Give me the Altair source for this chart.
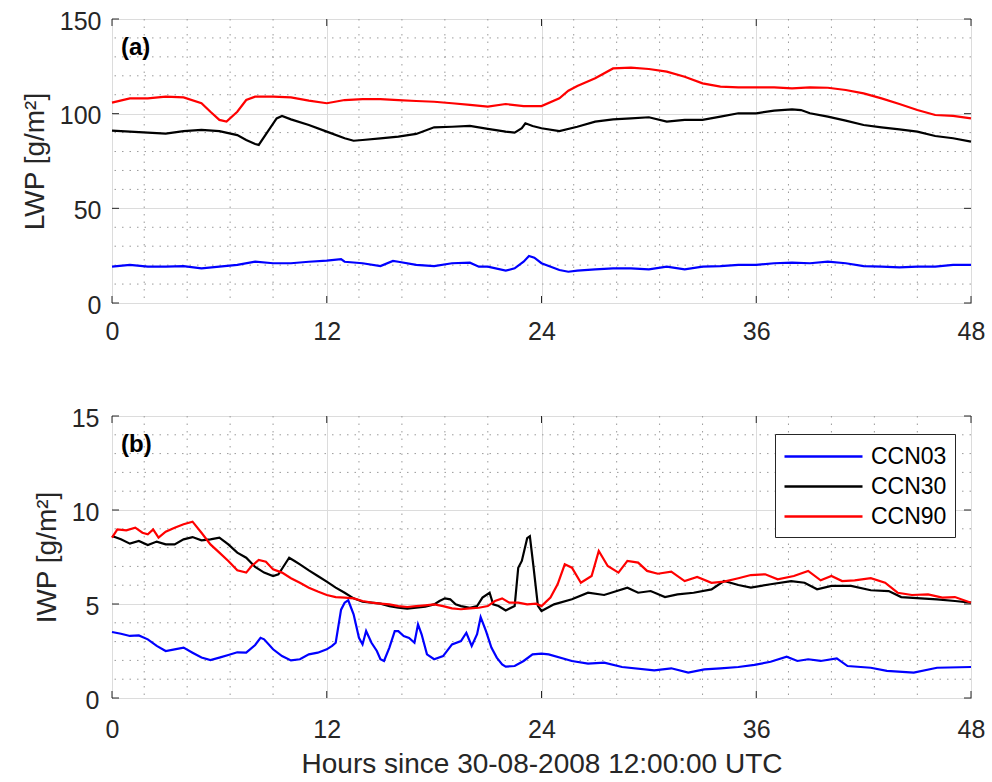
import altair as alt
import pandas as pd

# ---------------- categories / styles ----------------
series_names = ["CCN03", "CCN30", "CCN90"]
series_colors = ["#0000ff", "#000000", "#ff0000"]

x_ticks = [0, 12, 24, 36, 48]
x_minor = [1.8, 4.2, 6.6, 9.0, 13.8, 16.2, 18.6, 21.0, 25.8, 28.2, 30.6, 33.0,
           37.8, 40.2, 42.6, 45.0]
lwp_ticks = [0, 50, 100, 150]
lwp_minor = [10, 20, 30, 40, 60, 70, 80, 90, 110, 120, 130, 140]
iwp_ticks = [0, 5, 10, 15]
iwp_minor = [1, 2, 3, 4, 6, 7, 8, 9, 11, 12, 13, 14]

# ---------------- LWP (panel a) ----------------
lwp03_h = [0, 1, 2, 3, 4, 5, 6, 7, 8, 9, 10, 11, 12, 12.8, 13, 14, 15, 15.7, 16, 17, 18, 19, 20,
           20.5, 21, 22, 22.5, 23, 23.3, 23.6, 24, 25, 25.5, 26, 27, 28, 29, 30, 31, 32, 33, 34,
           35, 36, 37, 38, 39, 40, 41, 42, 43, 44, 45, 46, 47, 48]
lwp03_v = [19.2, 20.1, 19.2, 19.2, 19.5, 18.3, 19.2, 20.1, 21.8, 21.0, 21.0, 21.8, 22.4, 23.2,
           21.8, 21.0, 19.5, 22.2, 21.8, 20.1, 19.5, 21.0, 21.3, 19.2, 19.2, 17.1, 18.3, 21.8,
           24.8, 23.9, 21.0, 17.4, 16.5, 17.1, 17.8, 18.3, 18.3, 17.8, 19.2, 17.8, 19.2, 19.5,
           20.1, 20.1, 21.0, 21.3, 21.0, 21.8, 21.0, 19.5, 19.2, 18.8, 19.2, 19.2, 20.1, 20.1]

lwp30_h = [0, 1, 2, 3, 4, 5, 6, 7, 7.5, 8, 8.2, 8.7, 9.2, 9.5, 10, 11, 12, 13, 13.5, 14, 15, 16,
           17, 18, 19, 20, 21, 22, 22.5, 22.9, 23.1, 23.5, 24, 25, 26, 27, 28, 29, 30, 31, 32,
           33, 34, 35, 36, 37, 38, 38.5, 39, 40, 41, 42, 43, 44, 45, 46, 47, 48]
lwp30_v = [91.0, 90.5, 90.0, 89.5, 90.8, 91.4, 90.8, 88.7, 86.1, 84.0, 83.5, 90.5, 97.5, 98.8,
           97.0, 94.0, 90.5, 87.0, 85.7, 86.1, 87.0, 87.9, 89.3, 92.8, 93.1, 93.5, 92.0, 90.5,
           90.0, 92.3, 94.9, 93.5, 92.3, 90.8, 93.1, 95.8, 97.0, 97.5, 98.1, 95.8, 96.7, 96.7,
           98.4, 100.2, 100.2, 101.6, 102.3, 101.9, 100.2, 98.4, 96.3, 94.0, 92.8, 91.7, 90.5,
           88.2, 87.0, 85.2]

lwp90_h = [0, 1, 2, 3, 4, 5, 5.5, 6, 6.4, 7, 7.5, 8, 9, 10, 11, 12, 13, 14, 15, 16, 17, 18, 19,
           20, 21, 22, 23, 24, 25, 25.5, 26, 27, 28, 29, 30, 31, 32, 33, 34, 35, 36, 37, 38, 39,
           40, 41, 42, 43, 44, 45, 46, 47, 48]
lwp90_v = [105.8, 108.1, 108.1, 109.0, 108.6, 105.5, 101.0, 96.7, 95.8, 101.0, 107.2, 109.0,
           109.0, 108.6, 106.9, 105.5, 107.2, 107.7, 107.7, 107.2, 106.7, 106.3, 105.5, 104.6,
           103.7, 105.1, 104.0, 104.0, 108.1, 112.1, 114.6, 118.7, 123.9, 124.3, 123.6, 122.2,
           119.5, 116.0, 114.3, 113.9, 113.9, 113.9, 113.4, 113.9, 113.7, 112.5, 110.7, 108.1,
           105.1, 101.9, 99.3, 98.8, 97.5]

# ---------------- IWP (panel b) ----------------
iwp03_h = [0, 0.5, 1, 1.5, 2, 2.5, 3, 3.5, 4, 4.5, 5, 5.5, 6, 6.5, 7, 7.5, 8, 8.3, 8.5, 9, 9.5,
           10, 10.5, 11, 11.5, 12, 12.3, 12.5, 12.8, 13.0, 13.2, 13.5, 13.8, 14, 14.2, 14.5,
           14.8, 15, 15.2, 15.5, 15.8, 16, 16.3, 16.6, 16.9, 17.1, 17.3, 17.6, 18, 18.5, 19,
           19.5, 19.8, 20.1, 20.4, 20.6, 20.9, 21.2, 21.5, 21.8, 22, 22.5, 23, 23.5, 24, 24.4,
           25.7, 26.6, 27.5, 28.5, 30.3, 31.25, 32.2, 33.1, 34.0, 35.0, 35.9, 36.8, 37.7, 38.3,
           38.9, 39.6, 40.5, 41.1, 42.4, 43.3, 44.8, 46.1, 48]
iwp03_v = [3.51, 3.42, 3.30, 3.33, 3.12, 2.77, 2.50, 2.59, 2.68, 2.41, 2.15, 2.02, 2.15, 2.29,
           2.43, 2.41, 2.82, 3.20, 3.12, 2.59, 2.23, 2.00, 2.06, 2.32, 2.41, 2.59, 2.77, 2.94,
           4.70, 5.07, 5.20, 4.45, 3.20, 2.85, 3.56, 2.94, 2.50, 2.06, 1.97, 2.68, 3.56, 3.56,
           3.30, 3.20, 2.94, 3.92, 3.39, 2.32, 2.06, 2.23, 2.85, 3.03, 3.47, 2.77, 3.39, 4.30,
           3.56, 2.68, 2.15, 1.79, 1.67, 1.70, 1.97, 2.32, 2.36, 2.32, 1.97, 1.83, 1.88, 1.65,
           1.47, 1.58, 1.35, 1.52, 1.58, 1.65, 1.76, 1.93, 2.20, 1.97, 2.06, 1.97, 2.11, 1.70,
           1.61, 1.44, 1.35, 1.61, 1.65]

iwp30_h = [0, 0.5, 1, 1.5, 2, 2.5, 3, 3.5, 4, 4.5, 5, 5.5, 6, 6.5, 7, 7.5, 8, 8.5, 9, 9.3, 9.6,
           9.9, 10.2, 10.5, 11, 11.5, 12, 12.5, 13, 13.5, 14, 14.5, 15, 15.5, 16, 16.5, 17, 17.5,
           18, 18.3, 18.6, 18.9, 19.2, 19.5, 20, 20.4, 20.7, 21.1, 21.3, 21.6, 22, 22.5, 22.7,
           22.9, 23.2, 23.35, 23.55, 23.8, 24.0, 24.7, 25.7, 26.6, 27.5, 28.8, 29.4, 30.1, 30.9,
           31.6, 32.5, 33.5, 34.2, 35.0, 35.7, 36.8, 37.95, 38.7, 39.4, 40.2, 41.3, 42.4, 43.4,
           44.1, 45.2, 46.1, 47.1, 48]
iwp30_v = [8.62, 8.44, 8.21, 8.35, 8.14, 8.32, 8.17, 8.17, 8.44, 8.56, 8.39, 8.44, 8.53, 8.17,
           7.73, 7.46, 6.97, 6.67, 6.49, 6.58, 7.02, 7.46, 7.29, 7.11, 6.79, 6.49, 6.19, 5.87,
           5.60, 5.30, 5.12, 5.07, 5.02, 4.89, 4.80, 4.75, 4.80, 4.86, 4.98, 5.16, 5.30, 5.25,
           4.98, 4.89, 4.80, 4.89, 5.34, 5.60, 4.98, 4.89, 4.66, 4.89, 6.93, 7.29, 8.50, 8.60,
           7.00, 4.90, 4.63, 4.98, 5.25, 5.60, 5.48, 5.87, 5.60, 5.69, 5.37, 5.51, 5.60, 5.78,
           6.22, 6.01, 5.87, 6.05, 6.22, 6.13, 5.78, 5.96, 5.96, 5.73, 5.69, 5.37, 5.30, 5.25,
           5.16, 5.07]

iwp90_h = [0, 0.3, 0.8, 1.3, 1.7, 2, 2.3, 2.6, 3, 3.5, 4, 4.5, 5, 5.5, 6, 6.5, 7, 7.5, 7.8, 8.2,
           8.6, 9, 9.5, 10, 10.5, 11, 11.5, 12, 12.5, 13, 13.5, 14, 14.5, 15, 15.5, 16, 16.5, 17,
           17.5, 18, 18.5, 19, 19.5, 20, 20.5, 21, 21.4, 21.8, 22.2, 22.7, 23.2, 23.7, 24, 24.5,
           24.9, 25.3, 25.7, 26.2, 26.8, 27.2, 27.7, 28.3, 28.8, 29.4, 29.9, 30.5, 31.25, 32.0,
           32.7, 33.5, 34.2, 35.0, 35.7, 36.5, 37.2, 38.1, 38.9, 39.6, 40.2, 40.8, 41.5, 42.4,
           43.2, 43.9, 44.7, 45.6, 46.4, 47.1, 48]
iwp90_v = [8.53, 8.97, 8.92, 9.06, 8.79, 8.71, 8.97, 8.53, 8.85, 9.06, 9.24, 9.38, 8.79, 8.17,
           7.73, 7.29, 6.79, 6.67, 7.02, 7.34, 7.25, 6.84, 6.67, 6.37, 6.13, 5.87, 5.66, 5.48,
           5.37, 5.34, 5.30, 5.16, 5.07, 5.02, 4.98, 4.89, 4.84, 4.89, 4.93, 4.98, 4.89, 4.77,
           4.72, 4.77, 4.80, 4.89, 5.16, 5.30, 5.07, 5.07, 4.98, 5.02, 4.89, 5.34, 6.05, 7.11,
           6.93, 6.13, 6.49, 7.82, 7.02, 6.67, 7.29, 7.20, 6.76, 6.61, 6.72, 6.22, 6.44, 6.13,
           6.19, 6.37, 6.54, 6.58, 6.31, 6.49, 6.76, 6.26, 6.49, 6.22, 6.26, 6.37, 6.13, 5.60,
           5.48, 5.51, 5.34, 5.37, 5.07]


def long_df(parts):
    rows = []
    for name, hs, vs in parts:
        assert len(hs) == len(vs), (name, len(hs), len(vs))
        for h, v in zip(hs, vs):
            rows.append({"hours": h, "value": v, "series": name})
    return pd.DataFrame(rows)


lwp_df = long_df([("CCN03", lwp03_h, lwp03_v), ("CCN30", lwp30_h, lwp30_v),
                  ("CCN90", lwp90_h, lwp90_v)])
iwp_df = long_df([("CCN03", iwp03_h, iwp03_v), ("CCN30", iwp30_h, iwp30_v),
                  ("CCN90", iwp90_h, iwp90_v)])

W = 859
FONT = "Liberation Sans"
AX = "#262626"
TICK = 7


def panel(df, yticks, yminor, ymax, height, ytitle, xtitle, label, legend,
          x_label_pad, y_label_pad):
    xs = alt.Scale(domain=[0, 48], nice=False, zero=False)
    ys = alt.Scale(domain=[0, ymax], nice=False, zero=False)
    xaxis = alt.Axis(values=x_ticks, title=xtitle, labelPadding=x_label_pad,
                     labelFlush=False, titlePadding=8, format="d")
    yaxis = alt.Axis(values=yticks, title=ytitle, labelPadding=y_label_pad,
                     titlePadding=10, labelOffset=2, format="d")
    cscale = alt.Scale(domain=series_names, range=series_colors)

    hgrid = alt.Chart(pd.DataFrame({"value": yminor})).mark_rule(
        color="#9a9a9a", strokeDash=[1.5, 6], strokeWidth=1).encode(
        y=alt.Y("value:Q", scale=ys, axis=yaxis))
    vgrid = alt.Chart(pd.DataFrame({"hours": x_minor})).mark_rule(
        color="#9a9a9a", strokeDash=[1.5, 6], strokeWidth=1).encode(
        x=alt.X("hours:Q", scale=xs, axis=xaxis))
    lines = alt.Chart(df).mark_line(strokeWidth=2.2).encode(
        x=alt.X("hours:Q", scale=xs, axis=xaxis),
        y=alt.Y("value:Q", scale=ys, axis=yaxis),
        color=alt.Color("series:N", scale=cscale, legend=legend),
    )
    xt = pd.DataFrame({"hours": x_ticks})
    yt = pd.DataFrame({"value": yticks})
    bticks = alt.Chart(xt).mark_rule(color=AX, strokeWidth=1).encode(
        x=alt.X("hours:Q", scale=xs, axis=xaxis), y=alt.value(height), y2=alt.value(height - TICK))
    tticks = alt.Chart(xt).mark_rule(color=AX, strokeWidth=1).encode(
        x=alt.X("hours:Q", scale=xs, axis=xaxis), y=alt.value(0), y2=alt.value(TICK))
    lticks = alt.Chart(yt).mark_rule(color=AX, strokeWidth=1).encode(
        y=alt.Y("value:Q", scale=ys, axis=yaxis), x=alt.value(0), x2=alt.value(TICK))
    rticks = alt.Chart(yt).mark_rule(color=AX, strokeWidth=1).encode(
        y=alt.Y("value:Q", scale=ys, axis=yaxis), x=alt.value(W), x2=alt.value(W - TICK))
    text = alt.Chart(pd.DataFrame({"label": [label]})).mark_text(
        align="left", baseline="middle", font=FONT, fontSize=24, fontWeight="bold",
        color="#000000").encode(text="label:N", x=alt.value(9), y=alt.value(29))
    return alt.layer(hgrid, vgrid, lines, bticks, tticks, lticks, rticks, text).properties(
        width=W, height=height)


legend_b = alt.Legend(orient="none", legendX=663, legendY=18, direction="vertical",
                      title=None, symbolType="M-3,0H3", symbolSize=676, symbolOffset=26,
                      symbolStrokeWidth=2.5, labelFont=FONT, labelFontSize=23,
                      labelColor="#000000", strokeColor=AX, fillColor="white",
                      padding=8, rowPadding=3, labelOffset=33)

top = panel(lwp_df, lwp_ticks, lwp_minor, 150, 284, "LWP [g/m²]", None, "(a)", None, 16, 11)
bottom = panel(iwp_df, iwp_ticks, iwp_minor, 15, 282, "IWP [g/m²]",
               "Hours since 30-08-2008 12:00:00 UTC", "(b)", legend_b, 19, 13)

chart = alt.vconcat(top, bottom, spacing=60).resolve_scale(color="independent").configure(
    padding={"left": 20, "top": 8, "right": 0, "bottom": 0},
    background="white",
).configure_view(stroke=AX, strokeWidth=1).configure_axis(
    labelFont=FONT, labelFontSize=25, labelColor=AX,
    titleFont=FONT, titleFontSize=28, titleFontWeight="normal", titleColor=AX,
    gridColor="#dcdcdc", gridWidth=1, domain=False, ticks=False,
)

chart.save("out.html", embed_options={"renderer": "svg", "actions": False})
